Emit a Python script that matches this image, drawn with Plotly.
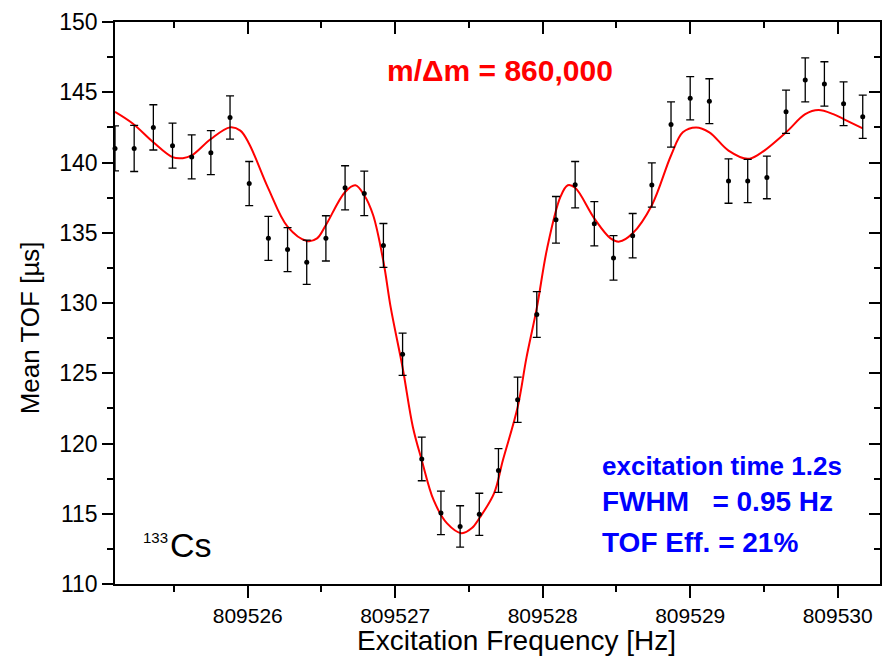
import plotly.graph_objects as go

# Measured data points
freq = [809525.10, 809525.23, 809525.36, 809525.49, 809525.62, 809525.75, 809525.88,
        809526.01, 809526.14, 809526.27, 809526.40, 809526.53, 809526.66, 809526.79, 809526.92,
        809527.05, 809527.18, 809527.31, 809527.44, 809527.57, 809527.70, 809527.83, 809527.96,
        809528.09, 809528.22, 809528.35, 809528.48, 809528.61, 809528.74, 809528.87,
        809529.00, 809529.13, 809529.26, 809529.39, 809529.52, 809529.65, 809529.78, 809529.91,
        809530.04, 809530.17]
tof = [141.0, 141.0, 142.5, 141.2, 140.4, 140.7, 143.2,
       138.5, 134.6, 133.8, 132.9, 134.6, 138.2, 137.8, 134.1,
       126.35, 118.9, 115.06, 114.1, 114.96, 118.08, 123.12, 129.18,
       135.92, 138.42, 135.64, 133.21, 134.79, 138.40, 142.71,
       144.57, 144.36, 138.68, 138.68, 138.94, 143.61, 145.88, 145.59,
       144.18, 143.26]
tof_err = [1.6, 1.64, 1.61, 1.6, 1.56, 1.57, 1.54,
           1.57, 1.56, 1.57, 1.57, 1.61, 1.57, 1.58, 1.56,
           1.5, 1.55, 1.55, 1.47, 1.5, 1.56, 1.61, 1.63,
           1.66, 1.65, 1.58, 1.58, 1.58, 1.58, 1.61,
           1.54, 1.6, 1.58, 1.54, 1.52, 1.54, 1.56, 1.58,
           1.56, 1.54]

# Fit curve
fit_freq = [809525.10, 809525.22, 809525.36, 809525.49, 809525.56, 809525.62, 809525.75,
            809525.88, 809525.95, 809526.01, 809526.14, 809526.27, 809526.40, 809526.47,
            809526.53, 809526.66, 809526.73, 809526.79, 809526.85, 809526.92, 809526.97,
            809527.05, 809527.12, 809527.18, 809527.26, 809527.35, 809527.45, 809527.52,
            809527.57, 809527.67, 809527.73, 809527.83, 809527.89, 809527.96, 809528.03,
            809528.12, 809528.17, 809528.22, 809528.35, 809528.46, 809528.52, 809528.61,
            809528.74, 809528.87, 809528.95, 809529.04, 809529.13, 809529.26, 809529.39,
            809529.47, 809529.65, 809529.78, 809529.87, 809529.97, 809530.04, 809530.17]
fit_tof = [143.61, 142.78, 141.44, 140.38, 140.31, 140.50, 141.67,
           142.50, 142.27, 141.32, 138.14, 135.43, 134.42, 134.60,
           135.55, 137.90, 138.38, 137.67, 136.26, 132.95, 129.65,
           125.41, 121.16, 118.81, 115.98, 114.33, 113.62, 113.98,
           114.68, 116.45, 118.81, 122.58, 126.11, 129.65, 133.89,
           137.55, 138.38, 138.20, 136.02, 134.60, 134.37, 134.96,
           136.96, 140.50, 142.15, 142.50, 142.15, 140.85, 140.26,
           140.61, 142.15, 143.44, 143.73, 143.44, 143.09, 142.43]

x_range = [809525.10, 809530.287]
y_range = [110, 150]

FONT = "Liberation Sans, Arial, sans-serif"
W, H = 889, 659
ML, MR, MT, MB = 115, 9, 19, 75

fig = go.Figure()
fig.add_trace(go.Scatter(
    x=fit_freq, y=fit_tof, mode="lines",
    line=dict(color="#FF0000", width=2, shape="spline", smoothing=1.0),
    hoverinfo="skip", showlegend=False))
fig.add_trace(go.Scatter(
    x=freq, y=tof, mode="markers",
    marker=dict(color="black", size=5),
    error_y=dict(type="data", array=tof_err, color="black", thickness=1.3, width=4),
    cliponaxis=False, showlegend=False))
# invisible trace for mirrored axes
fig.add_trace(go.Scatter(x=x_range, y=y_range, xaxis="x2", yaxis="y2",
                         mode="markers", marker=dict(opacity=0), showlegend=False,
                         hoverinfo="skip"))

axis_common = dict(showgrid=False, zeroline=False, showline=True, linecolor="black",
                   linewidth=1.5)

fig.update_layout(
    width=W, height=H,
    margin=dict(l=ML, r=MR, t=MT, b=MB),
    paper_bgcolor="white", plot_bgcolor="white",
    font=dict(family=FONT, color="black"),
    xaxis=dict(range=x_range, tick0=809526, dtick=1, tickformat="d",
               ticks="outside", ticklen=12, tickwidth=1.5, tickcolor="black",
               minor=dict(ticks="outside", ticklen=6, dtick=0.5, tick0=809526,
                          tickwidth=1.5, tickcolor="black"),
               tickfont=dict(size=21, family=FONT), **axis_common),
    yaxis=dict(range=y_range, tick0=110, dtick=5,
               ticks="outside", ticklen=11, tickwidth=1.5, tickcolor="black",
               minor=dict(ticks="outside", ticklen=6, dtick=2.5, tick0=110,
                          tickwidth=1.5, tickcolor="black"),
               tickfont=dict(size=23, family=FONT), **axis_common),
    xaxis2=dict(range=x_range, overlaying="x", side="top", anchor="y",
                tick0=809526, dtick=1, showticklabels=False,
                ticks="inside", ticklen=12, tickwidth=1.5, tickcolor="black",
                minor=dict(ticks="inside", ticklen=6, dtick=0.5, tick0=809526,
                           tickwidth=1.5, tickcolor="black"),
                **axis_common),
    yaxis2=dict(range=y_range, overlaying="y", side="right", anchor="x",
                tick0=110, dtick=5, showticklabels=False,
                ticks="inside", ticklen=11, tickwidth=1.5, tickcolor="black",
                minor=dict(ticks="inside", ticklen=6, dtick=2.5, tick0=110,
                           tickwidth=1.5, tickcolor="black"),
                **axis_common),
)

annotations = [
    dict(text="Excitation Frequency [Hz]", x=516, y=641,
         font=dict(size=28, family=FONT)),
    dict(text="Mean TOF [µs]", x=30, y=327, textangle=-90,
         font=dict(size=26, family=FONT)),
    dict(text="<b>m/Δm = 860,000</b>", x=500, y=68,
         font=dict(size=30, family=FONT, color="#FF0000")),
    dict(text="<b>excitation time 1.2s</b>", x=600, y=465, xanchor="left",
         font=dict(size=26, family=FONT, color="#0000FF")),
    dict(text="<b>FWHM   = 0.95 Hz</b>", x=600, y=501, xanchor="left",
         font=dict(size=28, family=FONT, color="#0000FF")),
    dict(text="<b>TOF Eff. = 21%</b>", x=600, y=542, xanchor="left",
         font=dict(size=28, family=FONT, color="#0000FF")),
    dict(text="Cs", x=168, y=545, xanchor="left",
         font=dict(size=34, family=FONT)),
    dict(text="133", x=141, y=537, xanchor="left",
         font=dict(size=15, family=FONT)),
]
ann_list = []
for a in annotations:
    d = dict(showarrow=False, xref="paper", yref="paper", yanchor="middle")
    d.update(a)
    d.setdefault("xanchor", "center")
    # convert pixel positions (from top-left) to paper coords
    d["x"] = (d["x"] - ML) / (W - ML - MR)
    d["y"] = ((H - d["y"]) - MB) / (H - MT - MB)
    ann_list.append(d)
fig.update_layout(annotations=ann_list)

fig.write_html("out.html", config={"displayModeBar": False},
               post_script="document.body.style.margin='0';")
